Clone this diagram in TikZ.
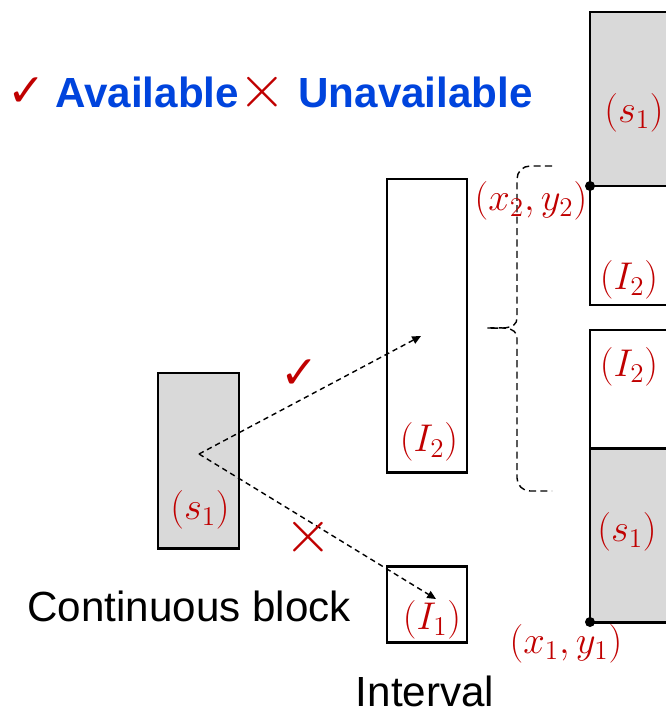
\RequirePackage{fix-cm}
\documentclass[tikz,border=0pt]{standalone}
\usepackage[no-math]{fontspec}
\setmainfont{Liberation Sans}
\newfontfamily\symfont{DejaVu Sans}
\usetikzlibrary{arrows.meta}
\definecolor{cmark}{RGB}{192,0,0}
\definecolor{clegend}{RGB}{0,68,221}
\definecolor{cfill}{RGB}{217,217,217}

\begin{document}
\begin{tikzpicture}[x=0.02cm,y=-0.02cm,
  box/.style={line width=1.7pt},
  lbl/.style={text=cmark,font=\fontsize{22}{26}\selectfont,inner sep=0pt},
  word/.style={font=\fontsize{24}{28}\selectfont,inner sep=0pt,anchor=base},
  okmark/.style={inner sep=0pt,text=cmark,font=\symfont\fontsize{26}{30}\selectfont},
  nomark/.style={inner sep=0pt,text=cmark,font=\fontsize{35}{40}\selectfont},
  hop/.style={dash pattern=on 3pt off 2.2pt,line width=0.8pt,-{Triangle[length=5pt,width=4.5pt]}},
  bracedash/.style={dash pattern=on 4pt off 2.5pt,line width=0.8pt},
  corner/.style={circle,fill=black,inner sep=0pt,minimum size=0.2cm}]
\useasboundingbox (0,0) rectangle (666,714);
\clip (0,0) rectangle (666,714);
% ===== legend =====
\node[okmark] (leg-ok) at (27,92) {✓};
\node[word,anchor=base west,text=clegend,font=\bfseries\fontsize{24}{28}\selectfont] (leg-avail) at (55,107) {Available};
\node[nomark] (leg-no) at (262,92) {$\times$};
\node[word,anchor=base west,text=clegend,font=\bfseries\fontsize{24}{28}\selectfont] (leg-unavail) at (298,107) {Unavailable};
% ===== continuous block and intervals =====
\draw[box,fill=cfill] (158,373) rectangle (239,548);
\draw[box] (387,179) rectangle (467,472);
\draw[box] (387,566) rectangle (467,642);
\node[lbl] (lbl-s1) at (200,510) {$(s_1)$};
\node[lbl] (lbl-i2) at (429,442) {$(I_2)$};
\node[lbl] (lbl-i1) at (432,620) {$(I_1)$};
\node[word] (cont-text) at (189,621) {Continuous block};
\node[word] (int-text) at (425,706) {Interval};
% dashed placement tries
\coordinate (src) at (199,454);
\coordinate (okend) at (421,336);
\coordinate (noend) at (436,599);
\draw[hop] (src) -- (okend);
\draw[hop] (src) -- (noend);
\node[okmark] (ok-mark) at (300,374) {✓};
\node[nomark] (no-mark) at (308,537) {$\times$};
% ===== brace =====
\draw[bracedash] (552,166) -- (530,166) to[out=180,in=90] (517,179) -- (517,318)
  to[out=-90,in=0] (487,328) to[out=0,in=90] (517,338) -- (517,478)
  to[out=-90,in=180] (530,491) -- (552,491);
% ===== two placements (right) =====
\draw[box,fill=cfill] (590,12) rectangle (680,186);
\draw[box] (590,186) rectangle (680,305);
\draw[box] (590,330) rectangle (680,448);
\draw[box,fill=cfill] (590,448) rectangle (680,622);
\node[corner] (upper-corner) at (590,186) {};
\node[corner] (lower-corner) at (590,622) {};
\node[lbl] (top-s1) at (634,113) {$(s_1)$};
\node[lbl] (top-i2) at (629,280) {$(I_2)$};
\node[lbl] (bot-i2) at (629,367) {$(I_2)$};
\node[lbl] (bot-s1) at (627,532) {$(s_1)$};
\node[lbl] (lbl-x2y2) at (531,201) {$(x_2,y_2)$};
\node[lbl] (lbl-x1y1) at (566,644) {$(x_1,y_1)$};
\end{tikzpicture}
\end{document}
